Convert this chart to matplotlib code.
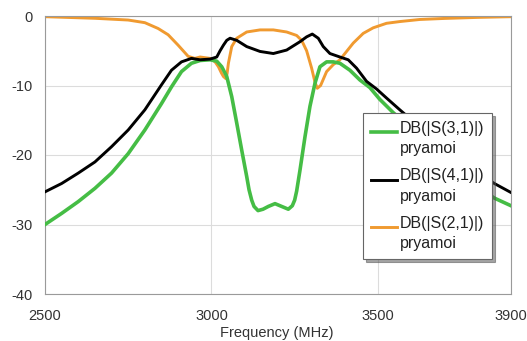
import numpy as np
import matplotlib
matplotlib.use("Agg")
from matplotlib import pyplot
from matplotlib.legend_handler import HandlerLine2D

pyplot.rcParams['axes.unicode_minus'] = False

# frequency points (MHz) and dB values
f_s31 = [2500, 2550, 2600, 2650, 2700, 2750, 2800, 2850, 2880, 2910, 2940, 2966, 2996,
         3016, 3031, 3046, 3061, 3076, 3091, 3106, 3113, 3121, 3128, 3140, 3155, 3171,
         3191, 3211, 3231, 3243, 3250, 3256, 3266, 3281, 3296, 3311, 3326, 3346, 3366,
         3386, 3416, 3446, 3476, 3506, 3546, 3600, 3650, 3700, 3750, 3800, 3850, 3900]
s31 = [-30.0, -28.4, -26.7, -24.8, -22.6, -19.8, -16.4, -12.6, -10.2, -8.0, -6.8, -6.4, -6.3,
       -6.5, -7.3, -8.7, -11.6, -15.4, -19.3, -23.1, -25.0, -26.5, -27.4, -28.0, -27.8, -27.4,
       -27.0, -27.4, -27.8, -27.3, -26.5, -25.2, -22.2, -17.4, -13.0, -9.7, -7.3, -6.6, -6.6,
       -6.8, -7.8, -9.2, -10.3, -12.0, -13.9, -16.2, -18.5, -20.7, -22.7, -24.6, -26.2, -27.3]

f_s41 = [2500, 2550, 2600, 2650, 2700, 2750, 2800, 2850, 2880, 2910, 2940, 2966, 2996,
         3016, 3026, 3036, 3046, 3056, 3076, 3106, 3146, 3186, 3226, 3266, 3286, 3303,
         3321, 3336, 3356, 3386, 3411, 3436, 3466, 3496, 3526, 3566, 3600, 3650, 3700,
         3750, 3800, 3850, 3900]
s41 = [-25.3, -24.1, -22.6, -21.0, -18.8, -16.4, -13.5, -9.9, -7.8, -6.6, -6.1, -6.3, -6.2,
       -5.9, -5.0, -4.2, -3.5, -3.2, -3.5, -4.4, -5.1, -5.4, -4.9, -3.7, -3.0, -2.6,
       -3.2, -4.4, -5.4, -5.9, -6.3, -7.5, -9.4, -10.5, -11.8, -13.5, -14.9, -16.8, -18.7,
       -20.6, -22.5, -24.1, -25.4]

f_s21 = [2500, 2650, 2750, 2800, 2840, 2870, 2900, 2930, 2950, 2966, 2996, 3011, 3021,
         3030, 3036, 3043, 3047, 3051, 3061, 3076, 3106, 3146, 3186, 3226, 3256, 3271,
         3286, 3301, 3311, 3318, 3328, 3346, 3366, 3386, 3406, 3426, 3456, 3486, 3526,
         3566, 3626, 3700, 3800, 3900]
s21 = [-0.1, -0.33, -0.58, -0.96, -1.8, -2.7, -4.2, -5.8, -6.1, -5.9, -6.1, -6.6, -7.3,
       -8.2, -8.7, -9.0, -8.3, -6.8, -4.4, -3.2, -2.3, -2.0, -2.0, -2.3, -2.8, -3.5,
       -5.0, -7.5, -9.5, -10.4, -10.0, -8.0, -7.0, -6.3, -5.1, -3.9, -2.5, -1.7, -1.05,
       -0.8, -0.5, -0.35, -0.2, -0.1]


class TopLineHandler(HandlerLine2D):
    # put the legend sample next to the first text line, not between the two
    def create_artists(self, legend, orig_handle, xdescent, ydescent, width, height,
                       fontsize, trans):
        return super().create_artists(legend, orig_handle, xdescent, ydescent - 10,
                                      width, height, fontsize, trans)


fig = pyplot.figure(figsize=(5.27, 3.41), dpi=100)
ax = fig.add_axes([45/527, 47/341, 466/527, 278/341])

ax.plot(f_s31, s31, color='#45bd45', lw=2.6, label='DB(|S(3,1)|)\npryamoi', zorder=3)
ax.plot(f_s41, s41, color='#000000', lw=2.1, label='DB(|S(4,1)|)\npryamoi', zorder=4)
ax.plot(f_s21, s21, color='#f09a30', lw=2.1, label='DB(|S(2,1)|)\npryamoi', zorder=2)

ax.set_xlim(2500, 3900)
ax.set_ylim(-40, 0)
ax.set_xticks([2500, 3000, 3500, 3900])
ax.set_yticks([0, -10, -20, -30, -40])
ax.grid(True, color='#dcdcdc', lw=0.8)
ax.set_axisbelow(True)
for s in ax.spines.values():
    s.set_color('#9a9a9a')
ax.tick_params(length=0, labelsize=10.5, colors='#333333')
ax.tick_params(axis='x', pad=11)
ax.tick_params(axis='y', pad=9)
for lab in ax.get_xticklabels() + ax.get_yticklabels():
    lab.set_fontfamily('Liberation Sans')

fig.text(277/527, 1 - 333/341, 'Frequency (MHz)', ha='center', va='center',
         fontsize=10.5, family='Liberation Sans', color='#333333')

leg = ax.legend(loc='upper left', bbox_to_anchor=(363/527, 1 - 113/341),
                bbox_transform=fig.transFigure, prop={'family': 'Liberation Sans', 'size': 11.5},
                fancybox=False, shadow=True, framealpha=1, edgecolor='#666666',
                handlelength=1.6, handletextpad=0.2, borderaxespad=0, labelspacing=0.75,
                borderpad=0.5, handler_map={matplotlib.lines.Line2D: TopLineHandler()})
leg.get_frame().set_linewidth(0.8)
for t in leg.get_texts():
    t.set_linespacing(1.45)
    t.set_color('#222222')

fig.savefig('out.png', dpi=100)
pyplot.close()
